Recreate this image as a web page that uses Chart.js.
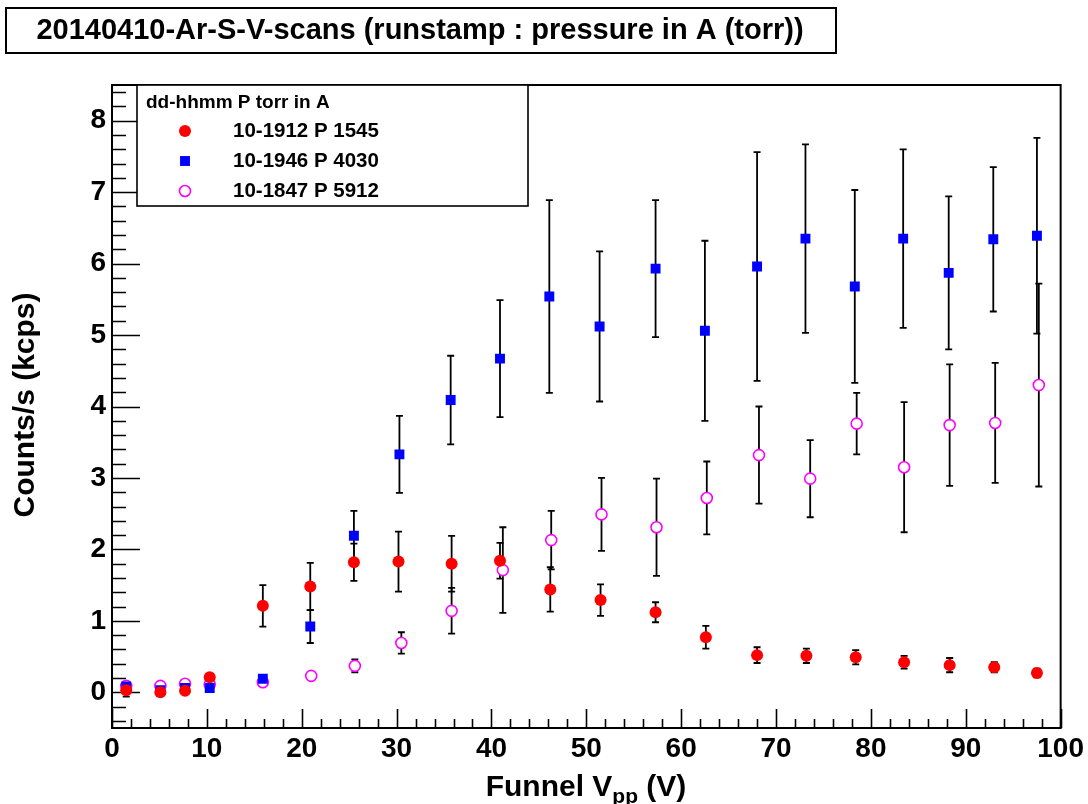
<!DOCTYPE html>
<html>
<head>
<meta charset="utf-8">
<script src="https://cdn.jsdelivr.net/npm/chart.js@4"></script>
<style>
  html, body { margin: 0; padding: 0; background: #fff; }
  canvas { display: block; }
</style>
</head>
<body>
<canvas id="c" width="1088" height="804"></canvas>
<script>
const FONT = '"Liberation Sans", Arial, Helvetica, sans-serif';

const titleText = "20140410-Ar-S-V-scans (runstamp : pressure in A (torr))";
const legendHeader = "dd-hhmm P torr in A";
const seriesNames = ["10-1912 P 1545", "10-1946 P 4030", "10-1847 P 5912"];

const xTicks = [0, 10, 20, 30, 40, 50, 60, 70, 80, 90, 100];
const yTicks = [0, 1, 2, 3, 4, 5, 6, 7, 8];

// run 10-1912, P 1545
const redX = [1.5, 5.1, 7.7, 10.3, 15.9, 20.9, 25.5, 30.2, 35.8, 40.9, 46.2, 51.5, 57.3, 62.6, 68.0, 73.2, 78.4, 83.5, 88.3, 93.0, 97.5];
const redY = [0.03, 0.00, 0.02, 0.21, 1.21, 1.48, 1.82, 1.83, 1.80, 1.84, 1.44, 1.29, 1.12, 0.77, 0.52, 0.51, 0.49, 0.42, 0.38, 0.35, 0.27];
const redErr = [0.09, 0.02, 0.03, 0.03, 0.29, 0.33, 0.26, 0.42, 0.39, 0.25, 0.31, 0.22, 0.14, 0.16, 0.11, 0.10, 0.10, 0.09, 0.10, 0.07, 0.06];

// run 10-1946, P 4030
const blueX = [1.5, 5.1, 7.7, 10.3, 15.9, 20.9, 25.5, 30.3, 35.7, 40.9, 46.1, 51.4, 57.3, 62.5, 68.0, 73.1, 78.3, 83.4, 88.2, 92.9, 97.5];
const blueY = [0.08, 0.03, 0.06, 0.06, 0.19, 0.92, 2.19, 3.33, 4.09, 4.67, 5.54, 5.12, 5.93, 5.06, 5.96, 6.35, 5.68, 6.35, 5.87, 6.34, 6.39];
const blueErr = [0.02, 0.02, 0.02, 0.02, 0.03, 0.23, 0.35, 0.54, 0.62, 0.82, 1.35, 1.05, 0.96, 1.26, 1.60, 1.32, 1.35, 1.25, 1.07, 1.01, 1.37];

// run 10-1847, P 5912
const magX = [1.5, 5.1, 7.7, 10.3, 15.9, 21.0, 25.6, 30.5, 35.8, 41.2, 46.3, 51.6, 57.4, 62.7, 68.2, 73.6, 78.5, 83.5, 88.3, 93.1, 97.7];
const magY = [0.09, 0.09, 0.12, 0.11, 0.14, 0.23, 0.37, 0.69, 1.14, 1.71, 2.13, 2.49, 2.31, 2.72, 3.32, 2.99, 3.76, 3.15, 3.74, 3.77, 4.30];
const magErr = [0.02, 0.02, 0.02, 0.02, 0.03, 0.04, 0.09, 0.15, 0.32, 0.60, 0.41, 0.51, 0.68, 0.51, 0.68, 0.54, 0.43, 0.91, 0.85, 0.84, 1.42];

function toPoints(xs, ys, errs) {
    return xs.map((x, i) => ({ x: x, y: ys[i], err: errs[i] }));
}

// ROOT style frame with inner ticks
const framePlugin = {
    id: "frame",
    beforeDatasetsDraw(chart) {
        const { ctx, chartArea: a, scales } = chart;
        ctx.save();
        ctx.strokeStyle = "#000";
        ctx.lineWidth = 2;
        ctx.strokeRect(a.left, a.top, a.right - a.left, a.bottom - a.top);

        ctx.beginPath();
        for (let v = 0; v <= 100; v += 2) {
            const px = Math.round(scales.x.getPixelForValue(v)) + 0.5;
            const len = v % 10 === 0 ? 19 : 9;
            ctx.moveTo(px, a.bottom);
            ctx.lineTo(px, a.bottom - len);
        }
        for (let k = -2; k <= 42; k++) {
            const v = k * 0.2;
            const py = Math.round(scales.y.getPixelForValue(v)) + 0.5;
            const len = k % 5 === 0 ? 28 : 14;
            ctx.moveTo(a.left, py);
            ctx.lineTo(a.left + len, py);
        }
        ctx.lineWidth = 1.6;
        ctx.stroke();
        ctx.restore();
    }
};

// vertical error bars with small caps
const errorBarPlugin = {
    id: "errorBars",
    beforeDatasetsDraw(chart) {
        const { ctx, scales } = chart;
        ctx.save();
        ctx.strokeStyle = "#000";
        ctx.lineWidth = 1.8;
        chart.data.datasets.forEach((ds) => {
            ds.data.forEach((p) => {
                const px = scales.x.getPixelForValue(p.x);
                const top = scales.y.getPixelForValue(p.y + p.err);
                const bot = scales.y.getPixelForValue(p.y - p.err);
                ctx.beginPath();
                ctx.moveTo(px, top);
                ctx.lineTo(px, bot);
                ctx.moveTo(px - 3.5, top);
                ctx.lineTo(px + 3.5, top);
                ctx.moveTo(px - 3.5, bot);
                ctx.lineTo(px + 3.5, bot);
                ctx.stroke();
            });
        });
        ctx.restore();
    }
};

function drawMarker(ctx, ds, x, y) {
    ctx.save();
    ctx.fillStyle = ds.backgroundColor;
    ctx.strokeStyle = ds.borderColor;
    ctx.lineWidth = ds.borderWidth;
    ctx.beginPath();
    if (ds.pointStyle === "rect") {
        const s = ds.pointRadius * Math.SQRT1_2;
        ctx.rect(x - s, y - s, 2 * s, 2 * s);
    } else {
        ctx.arc(x, y, ds.pointRadius, 0, Math.PI * 2);
    }
    ctx.fill();
    if (ds.borderWidth > 0) ctx.stroke();
    ctx.restore();
}

const decorPlugin = {
    id: "decor",
    afterDraw(chart) {
        const ctx = chart.ctx;
        ctx.save();

        // title box
        ctx.fillStyle = "#fff";
        ctx.fillRect(6, 8, 830, 45);
        ctx.strokeStyle = "#000";
        ctx.lineWidth = 2;
        ctx.strokeRect(6, 8, 830, 45);
        ctx.fillStyle = "#000";
        ctx.font = "bold 29px " + FONT;
        ctx.textAlign = "center";
        ctx.textBaseline = "middle";
        ctx.fillText(titleText, 420, 31);

        // legend box
        ctx.fillStyle = "#fff";
        ctx.fillRect(137, 85, 391, 121);
        ctx.lineWidth = 1.6;
        ctx.strokeRect(137, 85, 391, 121);
        ctx.fillStyle = "#000";
        ctx.textAlign = "left";
        ctx.font = "bold 19px " + FONT;
        ctx.fillText(legendHeader, 146, 103);
        ctx.font = "bold 20.5px " + FONT;
        const rows = [131, 161, 191];
        chart.data.datasets.forEach((ds, i) => {
            drawMarker(ctx, ds, 185, rows[i]);
            ctx.fillStyle = "#000";
            ctx.fillText(seriesNames[i], 233, rows[i]);
        });

        // y axis title
        ctx.save();
        ctx.translate(34, 405);
        ctx.rotate(-Math.PI / 2);
        ctx.font = "bold 30px " + FONT;
        ctx.textAlign = "center";
        ctx.textBaseline = "alphabetic";
        ctx.fillText("Counts/s (kcps)", 0, 0);
        ctx.restore();

        // x axis title with subscript
        const main = "bold 30px " + FONT;
        const sub = "bold 21px " + FONT;
        ctx.textBaseline = "alphabetic";
        ctx.font = main;
        const w1 = ctx.measureText("Funnel V").width;
        const w3 = ctx.measureText(" (V)").width;
        ctx.font = sub;
        const w2 = ctx.measureText("pp").width;
        let x0 = 586 - (w1 + w2 + w3) / 2;
        ctx.font = main;
        ctx.fillText("Funnel V", x0, 796);
        ctx.font = sub;
        ctx.fillText("pp", x0 + w1, 803);
        ctx.font = main;
        ctx.fillText(" (V)", x0 + w1 + w2, 796);

        ctx.restore();
    }
};

const ctx = document.getElementById("c").getContext("2d");
new Chart(ctx, {
    type: "scatter",
    data: {
        datasets: [
            {
                label: seriesNames[0],
                data: toPoints(redX, redY, redErr),
                pointStyle: "circle",
                pointRadius: 6,
                backgroundColor: "#ff0000",
                borderColor: "#ff0000",
                borderWidth: 0
            },
            {
                label: seriesNames[1],
                data: toPoints(blueX, blueY, blueErr),
                pointStyle: "rect",
                pointRadius: 7,
                backgroundColor: "#0000ff",
                borderColor: "#0000ff",
                borderWidth: 0
            },
            {
                label: seriesNames[2],
                data: toPoints(magX, magY, magErr),
                pointStyle: "circle",
                pointRadius: 5.5,
                backgroundColor: "#ffffff",
                borderColor: "#ff00ff",
                borderWidth: 1.6
            }
        ]
    },
    options: {
        responsive: false,
        animation: false,
        devicePixelRatio: 1,
        layout: { padding: { left: 0, top: 85, right: 27, bottom: 0 } },
        plugins: { legend: { display: false }, tooltip: { enabled: false } },
        elements: { point: { hoverRadius: 6 } },
        scales: {
            x: {
                type: "linear",
                min: 0,
                max: 100,
                grid: { display: false, drawTicks: false },
                border: { display: false },
                afterBuildTicks: (s) => { s.ticks = xTicks.map((v) => ({ value: v })); },
                afterFit: (s) => { s.height = 76; },
                ticks: {
                    color: "#000",
                    padding: 4,
                    maxRotation: 0,
                    font: { family: FONT, size: 28, weight: "bold" },
                    callback: (v) => String(v)
                }
            },
            y: {
                type: "linear",
                min: -0.5,
                max: 8.5,
                grid: { display: false, drawTicks: false },
                border: { display: false },
                afterBuildTicks: (s) => { s.ticks = yTicks.map((v) => ({ value: v })); },
                afterFit: (s) => { s.width = 112; },
                ticks: {
                    color: "#000",
                    padding: 6,
                    font: { family: FONT, size: 28, weight: "bold" },
                    callback: (v) => String(v)
                }
            }
        }
    },
    plugins: [framePlugin, errorBarPlugin, decorPlugin]
});
</script>
</body>
</html>
